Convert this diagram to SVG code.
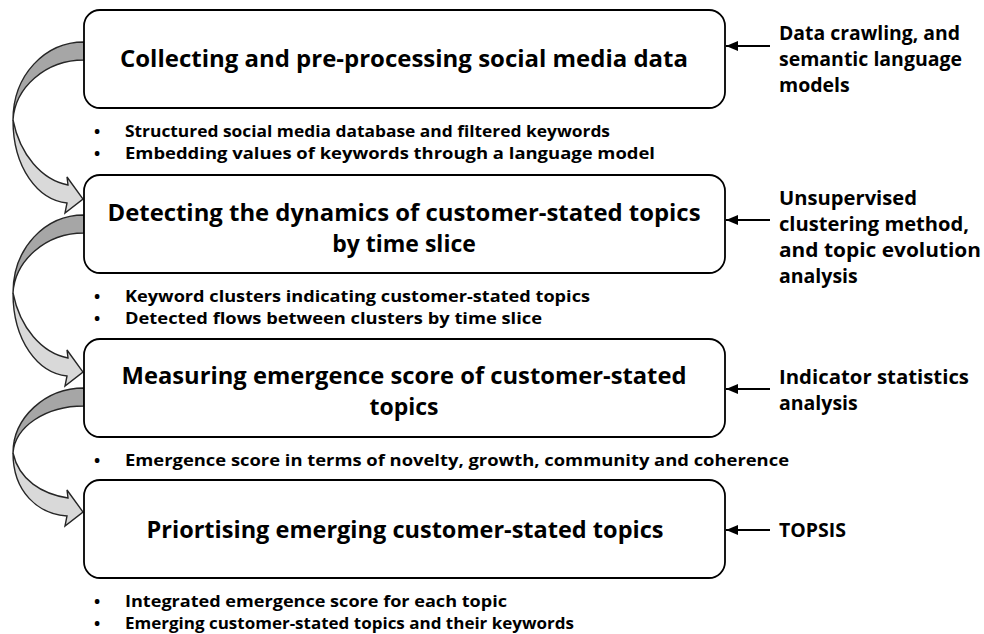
<svg xmlns="http://www.w3.org/2000/svg" width="984" height="634" viewBox="0 0 984 634">
<style>
  .box { fill: #ffffff; stroke: #000000; stroke-width: 1.8; }
  .title { font-family: "Open Sans", "Noto Sans", sans-serif; font-weight: 700; font-size: 23px; fill: #000; text-anchor: middle; }
  .bul { font-family: "Open Sans", "Noto Sans", sans-serif; font-weight: 700; font-size: 16.5px; fill: #000; }
  .side { font-family: "Open Sans", "Noto Sans", sans-serif; font-weight: 700; font-size: 19.5px; fill: #000; }
  .dark { fill: #a6a6a6; stroke: #262626; stroke-width: 1.4; stroke-linejoin: round; }
  .light { fill: #d9d9d9; stroke: #262626; stroke-width: 1.4; stroke-linejoin: miter; }
  .inarrow { stroke: #000; stroke-width: 1.8; fill: none; marker-end: url(#ah); }
</style>
<defs>
  <marker id="ah" viewBox="0 0 12 10" refX="12" refY="5" markerWidth="12" markerHeight="10" markerUnits="userSpaceOnUse" orient="auto">
    <path d="M0,0 L12,5 L0,10 Z" fill="#000"/>
  </marker>
</defs>

<g id="connectors">
  <g id="curve1">
    <path class="dark" d="M84,42 C45,42 13,75 13,120 C15,88 45,60 84,60 Z"/>
    <path class="light" d="M13,120 C13,168 38,200 67,203 L65,213 L83,199 L67,177 L68,185 C42,180 20,155 13,120 Z"/>
  </g>
  <g id="curve2" transform="translate(0,173)">
    <path class="dark" d="M84,42 C45,42 13,75 13,120 C15,88 45,60 84,60 Z"/>
    <path class="light" d="M13,120 C13,168 38,200 67,203 L65,213 L83,199 L67,177 L68,185 C42,180 20,155 13,120 Z"/>
  </g>
  <g id="curve3">
    <path class="dark" d="M84,388 C45,388 13,418 13,453 C15,427 45,406 84,406 Z"/>
    <path class="light" d="M13,453 C13,492 38,514 67,516 L65,526 L83,512 L67,490 L68,498 C42,494 19,480 13,453 Z"/>
  </g>
  <line class="inarrow" x1="770" y1="46" x2="726" y2="46"/>
  <line class="inarrow" x1="770" y1="220" x2="726" y2="220"/>
  <line class="inarrow" x1="770" y1="389" x2="726" y2="389"/>
  <line class="inarrow" x1="770" y1="530" x2="726" y2="530"/>
</g>

<g id="node1">
  <rect class="box" x="84" y="10" width="641" height="98" rx="16"/>
  <text class="title" x="404" y="67" textLength="568" lengthAdjust="spacingAndGlyphs">Collecting and pre-processing social media data</text>
</g>
<g id="node2">
  <rect class="box" x="84" y="175" width="641" height="98" rx="16"/>
  <text class="title" x="404" y="221" textLength="593" lengthAdjust="spacingAndGlyphs">Detecting the dynamics of customer-stated topics</text>
  <text class="title" x="404" y="252">by time slice</text>
</g>
<g id="node3">
  <rect class="box" x="84" y="339" width="641" height="98" rx="16"/>
  <text class="title" x="404" y="384" textLength="565" lengthAdjust="spacingAndGlyphs">Measuring emergence score of customer-stated</text>
  <text class="title" x="404" y="415">topics</text>
</g>
<g id="node4">
  <rect class="box" x="84" y="480" width="641" height="98" rx="16"/>
  <text class="title" x="405" y="538" textLength="517" lengthAdjust="spacingAndGlyphs">Priortising emerging customer-stated topics</text>
</g>

<g id="outputs1">
  <text class="bul" x="94" y="137">•</text>
  <text class="bul" x="125" y="137" textLength="485" lengthAdjust="spacingAndGlyphs">Structured social media database and filtered keywords</text>
  <text class="bul" x="94" y="159">•</text>
  <text class="bul" x="125" y="159" textLength="530" lengthAdjust="spacingAndGlyphs">Embedding values of keywords through a language model</text>
</g>
<g id="outputs2">
  <text class="bul" x="94" y="302">•</text>
  <text class="bul" x="125" y="302" textLength="465" lengthAdjust="spacingAndGlyphs">Keyword clusters indicating customer-stated topics</text>
  <text class="bul" x="94" y="324">•</text>
  <text class="bul" x="125" y="324" textLength="417" lengthAdjust="spacingAndGlyphs">Detected flows between clusters by time slice</text>
</g>
<g id="outputs3">
  <text class="bul" x="94" y="466">•</text>
  <text class="bul" x="125" y="466" textLength="664" lengthAdjust="spacingAndGlyphs">Emergence score in terms of novelty, growth, community and coherence</text>
</g>
<g id="outputs4">
  <text class="bul" x="94" y="607">•</text>
  <text class="bul" x="125" y="607" textLength="382" lengthAdjust="spacingAndGlyphs">Integrated emergence score for each topic</text>
  <text class="bul" x="94" y="629">•</text>
  <text class="bul" x="125" y="629" textLength="449" lengthAdjust="spacingAndGlyphs">Emerging customer-stated topics and their keywords</text>
</g>

<g id="method1">
  <text class="side" x="779" y="40" textLength="181" lengthAdjust="spacingAndGlyphs">Data crawling, and</text>
  <text class="side" x="779" y="66" textLength="183" lengthAdjust="spacingAndGlyphs">semantic language</text>
  <text class="side" x="779" y="92">models</text>
</g>
<g id="method2">
  <text class="side" x="779" y="205" textLength="138" lengthAdjust="spacingAndGlyphs">Unsupervised</text>
  <text class="side" x="779" y="231" textLength="190" lengthAdjust="spacingAndGlyphs">clustering method,</text>
  <text class="side" x="779" y="257" textLength="202" lengthAdjust="spacingAndGlyphs">and topic evolution</text>
  <text class="side" x="779" y="283">analysis</text>
</g>
<g id="method3">
  <text class="side" x="779" y="384" textLength="190" lengthAdjust="spacingAndGlyphs">Indicator statistics</text>
  <text class="side" x="779" y="410">analysis</text>
</g>
<g id="method4">
  <text class="side" x="779" y="537">TOPSIS</text>
</g>
</svg>
